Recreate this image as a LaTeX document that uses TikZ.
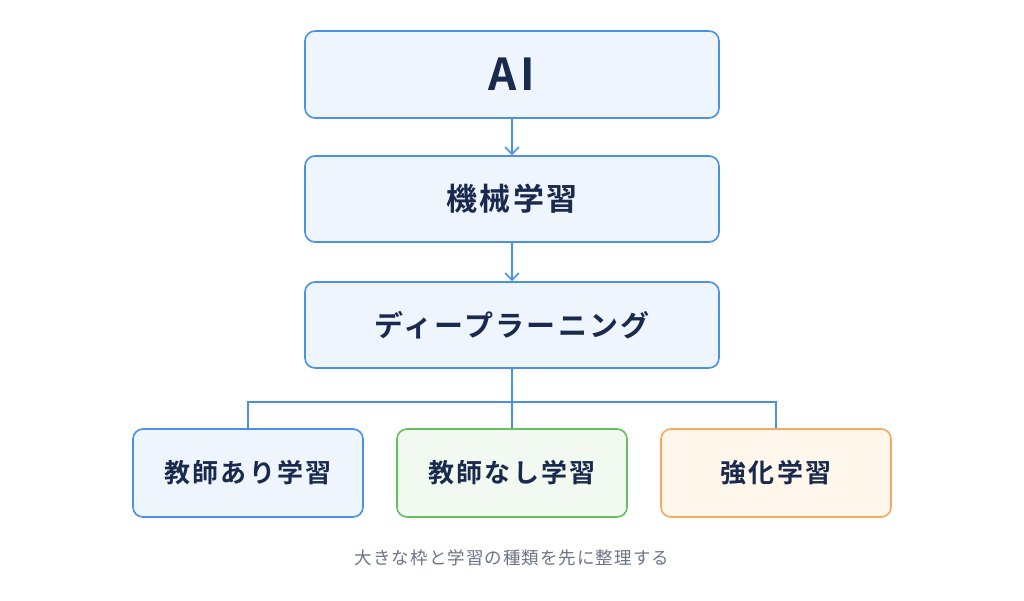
\documentclass[tikz,border=0pt]{standalone}
\usepackage{fontspec}
\setmainfont{Noto Sans CJK JP}[LetterSpace=6]
\newfontfamily\jpb{Noto Sans CJK JP Bold}[LetterSpace=8]
\usetikzlibrary{arrows.meta}
\definecolor{bl}{HTML}{4A90E8}
\definecolor{blf}{HTML}{EEF5FD}
\definecolor{gr}{HTML}{62C25E}
\definecolor{grf}{HTML}{F2F9F0}
\definecolor{or}{HTML}{F5A85E}
\definecolor{orf}{HTML}{FFF6EC}
\definecolor{tx}{HTML}{1A2A4E}
\definecolor{cap}{HTML}{6B7385}
\begin{document}
\begin{tikzpicture}[x=1pt,y=-1pt,
 box/.style={draw=bl,fill=blf,line width=1.6pt,rounded corners=10pt,text=tx,font=\jpb},
 conn/.style={bl,line width=1.6pt}]
\useasboundingbox (0,0) rectangle (1024,600);
\fill[white] (0,0) rectangle (1024,600);
\node[box,minimum width=414pt,minimum height=87pt,font=\jpb\fontsize{44}{44}\selectfont] (ai) at (512,74.5) {AI};
\node[box,minimum width=414pt,minimum height=86pt,font=\jpb\fontsize{31}{31}\selectfont] (ml) at (512,199) {機械学習};
\node[box,minimum width=414pt,minimum height=86pt,font=\jpb\fontsize{29}{29}\selectfont] (dl) at (512,325) {ディープラーニング};
\node[box,minimum width=230pt,minimum height=88pt,font=\jpb\fontsize{26}{26}\selectfont] (s1) at (248,473) {教師あり学習};
\node[box,draw=gr,fill=grf,minimum width=230pt,minimum height=88pt,font=\jpb\fontsize{26}{26}\selectfont] (s2) at (512,473) {教師なし学習};
\node[box,draw=or,fill=orf,minimum width=230pt,minimum height=88pt,font=\jpb\fontsize{26}{26}\selectfont] (s3) at (776,473) {強化学習};
\draw[conn,-{Straight Barb[length=7pt,width=14pt]}] (ai) -- (ml);
\draw[conn,-{Straight Barb[length=7pt,width=14pt]}] (ml) -- (dl);
\coordinate (j) at (512,402);
\draw[conn] (dl.south) -- (s2.north);
\draw[conn] (s1.north) |- (j) -| (s3.north);
\node[text=cap,font=\fontsize{17.5}{17.5}\selectfont] (c) at (512,558) {大きな枠と学習の種類を先に整理する};
\end{tikzpicture}
\end{document}
